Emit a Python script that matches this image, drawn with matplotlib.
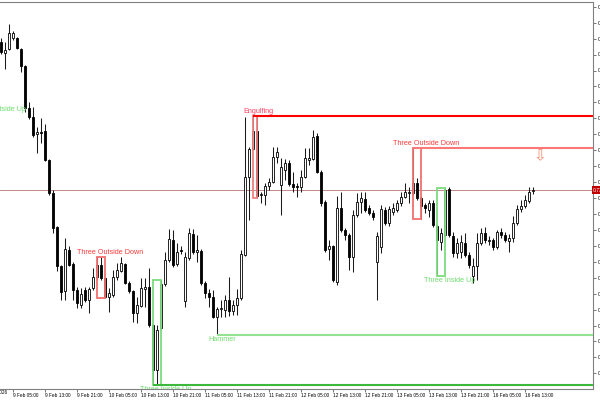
import matplotlib
matplotlib.use("Agg")
import matplotlib.pyplot as plt
import matplotlib.transforms as mtransforms
from matplotlib.patches import Rectangle
import numpy as np
import pandas as pd

# hourly bars, weekend gap between Fri 13 Feb and Mon 16 Feb
times = list(pd.date_range("2026-02-09 02:00", "2026-02-13 23:00", freq="h")) + \
        list(pd.date_range("2026-02-16 00:00", "2026-02-16 15:00", freq="h"))

opens = [0.7458, 0.7447, 0.7451, 0.7462, 0.7462, 0.7451, 0.7434, 0.7392, 0.7383, 0.7366,
         0.7368, 0.7369, 0.7340, 0.7307, 0.7273, 0.7234, 0.7209, 0.7250, 0.7236, 0.7210,
         0.7195, 0.7210, 0.7200, 0.7212, 0.7223, 0.7235, 0.7222, 0.7203, 0.7205, 0.7223,
         0.7229, 0.7236, 0.7217, 0.7209, 0.7187, 0.7194, 0.7211, 0.7213, 0.7175, 0.7130,
         0.7172, 0.7216, 0.7240, 0.7260, 0.7236, 0.7250, 0.7199, 0.7242, 0.7266, 0.7248,
         0.7249, 0.7217, 0.7207, 0.7203, 0.7183, 0.7191, 0.7190, 0.7200, 0.7189, 0.7195,
         0.7202, 0.7245, 0.7323, 0.7351, 0.7369, 0.7305, 0.7305, 0.7314, 0.7318, 0.7343,
         0.7315, 0.7330, 0.7337, 0.7316, 0.7314, 0.7313, 0.7323, 0.7340, 0.7341, 0.7364,
         0.7328, 0.7298, 0.7251, 0.7254, 0.7218, 0.7292, 0.7270, 0.7265, 0.7243, 0.7285,
         0.7298, 0.7301, 0.7292, 0.7287, 0.7238, 0.7253, 0.7290, 0.7277, 0.7288, 0.7290,
         0.7297, 0.7303, 0.7307, 0.7307, 0.7317, 0.7302, 0.7295, 0.7290, 0.7297, 0.7274,
         0.7258, 0.7265, 0.7311, 0.7264, 0.7247, 0.7248, 0.7257, 0.7245, 0.7224, 0.7234,
         0.7257, 0.7267, 0.7259, 0.7260, 0.7253, 0.7268, 0.7265, 0.7259, 0.7262, 0.7277,
         0.7291, 0.7294, 0.7299, 0.7309]
highs = [0.7462, 0.7458, 0.7476, 0.7469, 0.7463, 0.7452, 0.7435, 0.7398, 0.7393, 0.7373,
         0.7382, 0.7376, 0.7341, 0.7310, 0.7274, 0.7235, 0.7262, 0.7254, 0.7238, 0.7213,
         0.7212, 0.7213, 0.7213, 0.7232, 0.7243, 0.7243, 0.7223, 0.7212, 0.7230, 0.7237,
         0.7243, 0.7237, 0.7219, 0.7210, 0.7203, 0.7222, 0.7222, 0.7232, 0.7177, 0.7175,
         0.7220, 0.7248, 0.7271, 0.7270, 0.7257, 0.7254, 0.7248, 0.7272, 0.7271, 0.7265,
         0.7251, 0.7219, 0.7211, 0.7210, 0.7193, 0.7200, 0.7205, 0.7223, 0.7200, 0.7211,
         0.7250, 0.7383, 0.7353, 0.7384, 0.7383, 0.7308, 0.7317, 0.7322, 0.7353, 0.7353,
         0.7342, 0.7341, 0.7340, 0.7328, 0.7317, 0.7330, 0.7352, 0.7352, 0.7370, 0.7367,
         0.7330, 0.7300, 0.7260, 0.7255, 0.7304, 0.7308, 0.7272, 0.7267, 0.7290, 0.7307,
         0.7308, 0.7308, 0.7295, 0.7290, 0.7268, 0.7295, 0.7293, 0.7294, 0.7297, 0.7300,
         0.7308, 0.7317, 0.7313, 0.7352, 0.7322, 0.7304, 0.7297, 0.7300, 0.7300, 0.7276,
         0.7272, 0.7312, 0.7313, 0.7268, 0.7262, 0.7265, 0.7267, 0.7248, 0.7242, 0.7267,
         0.7272, 0.7273, 0.7264, 0.7262, 0.7270, 0.7272, 0.7268, 0.7266, 0.7284, 0.7295,
         0.7300, 0.7305, 0.7313, 0.7313]
lows = [0.7446, 0.7431, 0.7450, 0.7460, 0.7451, 0.7428, 0.7388, 0.7381, 0.7363, 0.7347,
        0.7357, 0.7339, 0.7305, 0.7267, 0.7229, 0.7200, 0.7200, 0.7234, 0.7200, 0.7192,
        0.7192, 0.7198, 0.7187, 0.7210, 0.7220, 0.7220, 0.7202, 0.7188, 0.7203, 0.7220,
        0.7228, 0.7216, 0.7207, 0.7178, 0.7177, 0.7193, 0.7193, 0.7173, 0.7117, 0.7115,
        0.7170, 0.7214, 0.7238, 0.7233, 0.7234, 0.7246, 0.7193, 0.7240, 0.7246, 0.7238,
        0.7215, 0.7202, 0.7193, 0.7182, 0.7165, 0.7183, 0.7183, 0.7184, 0.7185, 0.7185,
        0.7200, 0.7244, 0.7280, 0.7350, 0.7302, 0.7297, 0.7295, 0.7310, 0.7317, 0.7337,
        0.7285, 0.7320, 0.7314, 0.7308, 0.7303, 0.7308, 0.7322, 0.7335, 0.7340, 0.7327,
        0.7294, 0.7248, 0.7240, 0.7218, 0.7215, 0.7268, 0.7260, 0.7230, 0.7228, 0.7283,
        0.7287, 0.7288, 0.7285, 0.7280, 0.7200, 0.7247, 0.7275, 0.7274, 0.7285, 0.7288,
        0.7294, 0.7302, 0.7297, 0.7305, 0.7300, 0.7281, 0.7287, 0.7283, 0.7273, 0.7224,
        0.7250, 0.7264, 0.7263, 0.7243, 0.7242, 0.7242, 0.7243, 0.7232, 0.7217, 0.7220,
        0.7255, 0.7257, 0.7255, 0.7250, 0.7251, 0.7262, 0.7258, 0.7248, 0.7258, 0.7275,
        0.7288, 0.7292, 0.7297, 0.7306]
closes = [0.7448, 0.7450, 0.7467, 0.7467, 0.7452, 0.7434, 0.7392, 0.7383, 0.7365, 0.7368,
          0.7367, 0.7340, 0.7307, 0.7272, 0.7234, 0.7208, 0.7251, 0.7235, 0.7210, 0.7197,
          0.7206, 0.7200, 0.7211, 0.7223, 0.7235, 0.7222, 0.7203, 0.7207, 0.7223, 0.7230,
          0.7237, 0.7217, 0.7209, 0.7187, 0.7195, 0.7212, 0.7213, 0.7175, 0.7130, 0.7170,
          0.7216, 0.7240, 0.7261, 0.7235, 0.7248, 0.7249, 0.7243, 0.7267, 0.7248, 0.7250,
          0.7217, 0.7207, 0.7203, 0.7183, 0.7191, 0.7192, 0.7200, 0.7189, 0.7195, 0.7202,
          0.7246, 0.7323, 0.7351, 0.7369, 0.7304, 0.7306, 0.7314, 0.7318, 0.7343, 0.7348,
          0.7333, 0.7337, 0.7316, 0.7313, 0.7313, 0.7323, 0.7342, 0.7342, 0.7363, 0.7328,
          0.7297, 0.7250, 0.7254, 0.7220, 0.7292, 0.7270, 0.7265, 0.7243, 0.7285, 0.7298,
          0.7302, 0.7290, 0.7287, 0.7283, 0.7264, 0.7291, 0.7277, 0.7291, 0.7292, 0.7297,
          0.7303, 0.7308, 0.7308, 0.7317, 0.7302, 0.7294, 0.7292, 0.7297, 0.7275, 0.7260,
          0.7267, 0.7310, 0.7265, 0.7247, 0.7257, 0.7258, 0.7245, 0.7235, 0.7234, 0.7257,
          0.7267, 0.7260, 0.7260, 0.7253, 0.7268, 0.7265, 0.7260, 0.7262, 0.7277, 0.7291,
          0.7294, 0.7300, 0.7308, 0.7310]

# (name, first bar, last bar, bearish?, draw level line?)
patterns = [
    ("Three Outside Down", 24, 26, True, False),
    ("Three Inside Up", 38, 40, False, True),
    ("Hammer", 54, 54, False, True),
    ("Engulfing", 63, 64, True, True),
    ("Three Outside Down", 103, 105, True, True),
    ("Three Inside Up", 109, 111, False, False),
]
label_shift = {"Three Outside Down": -5, "Three Inside Up": -3.25, "Hammer": -2.25, "Engulfing": -2.5}
rect_color = {"Three Outside Down": "#f27070", "Three Inside Up": "#7ddc7d", "Engulfing": "#f08080"}
line_color = {"Three Outside Down": "#ff7878", "Three Inside Up": "#3cb83c", "Hammer": "#92e292", "Engulfing": "#ff0000"}
text_color = {"Three Outside Down": "#ff3b3b", "Three Inside Up": "#6fdc6f", "Hammer": "#6fdc6f", "Engulfing": "#ff4060"}

plt.rcParams['font.family'] = ['Liberation Sans', 'DejaVu Sans']

o = np.array(opens); h = np.array(highs); l = np.array(lows); c = np.array(closes)
x = np.arange(len(o))
up = c >= o

fig = plt.figure(figsize=(6, 4), dpi=100)
ax = fig.add_axes([0, 11 / 400, 593 / 600, 387.5 / 400])
ax.set_xlim(-0.25, 148)
ax.set_ylim(0.7111, 0.74985)

# candles
ax.vlines(x, l, h, color="#1a1a1a", lw=0.75, zorder=2)
ax.bar(x, np.abs(c - o), bottom=np.minimum(o, c), width=0.5,
       color=np.where(up, "white", "black"), edgecolor="black", linewidth=0.6, zorder=3)

# bid line
ax.axhline(c[-1], color="#c08888", lw=0.7, zorder=1)

for name, i0, i1, bear, level in patterns:
    hi = h[i0:i1 + 1].max()
    lo = l[i0:i1 + 1].min()
    if i1 > i0:
        ax.add_patch(Rectangle((i0, lo), i1 - i0, hi - lo, fill=False,
                               ec=rect_color[name], lw=1.3, zorder=4))
    if level:
        ax.hlines(hi if bear else lo, i0, 148, color=line_color[name], lw=1.5, zorder=4)
    tx = i0 + label_shift[name]
    if bear:
        ax.text(tx, hi + 0.00012, name, color=text_color[name], fontsize=5.2,
                ha="left", va="bottom", zorder=5)
    else:
        ax.text(tx, lo - 0.00015, name, color=text_color[name], fontsize=5.2,
                ha="left", va="top", zorder=5, clip_on=True)

# label of a pattern that lies left of the visible bars
ax.text(6.25, 0.7391, "Three Outside Up", color="#6fdc6f", fontsize=5.2,
        ha="right", va="center", clip_on=True)

ax.text(134.75, 0.7344, "\u21e9", color="#ff8a6a", fontsize=11, ha="center", va="center",
        family="DejaVu Sans")

# axes look
ax.spines["left"].set_visible(False)
for s in ["right", "top", "bottom"]:
    ax.spines[s].set_color("#808080")
    ax.spines[s].set_linewidth(0.8)

tick_idx = list(range(3, len(times), 8))
ax.set_xticks(tick_idx)
ax.set_xticklabels([f"{times[i].day} {times[i]:%b %H:%M}" for i in tick_idx],
                   fontsize=3.4, ha="left")
ax.tick_params(axis="x", length=2.2, width=0.6, color="#606060", pad=0.5)
fig.text(7 / 600, 1 - 393 / 400, "9 Feb 2026", fontsize=3.4, ha="right", va="center")

ax.yaxis.tick_right()
yt = np.round(0.74933 - 0.001594 * np.arange(24), 5)
ax.set_yticks(yt)
ax.set_yticklabels([f"{v:.5f}" for v in yt], fontsize=3.6)
ax.tick_params(axis="y", length=2.5, width=0.6, color="#606060", pad=1)

ax.text(1.0, c[-1], f"{c[-1]:.4f}", transform=mtransforms.blended_transform_factory(ax.transAxes, ax.transData),
        color="white", fontsize=3.6, ha="left", va="center", clip_on=False,
        bbox=dict(fc="#c00000", ec="none", pad=1.0), zorder=6)

fig.savefig("out.png", dpi=100)
